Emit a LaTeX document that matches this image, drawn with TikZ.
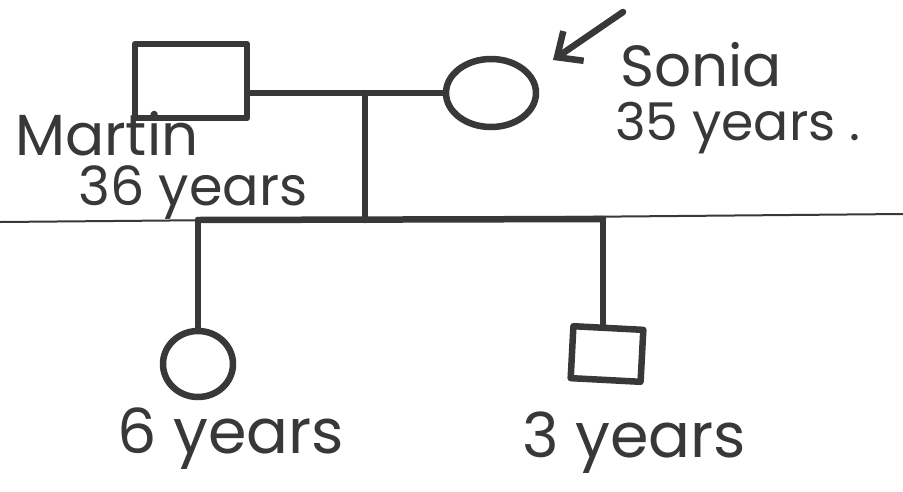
\documentclass[tikz,border=0pt]{standalone}
\usepackage{fontspec}
\setmainfont{Poppins}
\usetikzlibrary{shapes.geometric,arrows.meta}
\definecolor{ink}{HTML}{383838}
\begin{document}
\begin{tikzpicture}[x=1pt,y=-1pt,
  pen/.style={draw=ink, line width=6.5pt, line cap=round, line join=round},
  thinpen/.style={draw=ink, line width=2pt},
  malebox/.style={pen, rectangle, inner sep=0pt},
  femalebox/.style={pen, ellipse, inner sep=0pt},
  hand/.style={text=ink, inner sep=0pt, anchor=base west},
]
\useasboundingbox[fill=white] (0,0) rectangle (903,491);
% people
\node[malebox, minimum width=112pt, minimum height=74pt] (martin) at (191,81) {};
\node[femalebox, minimum width=90pt, minimum height=68pt] (sonia) at (491,93) {};
\node[femalebox, minimum width=70pt, minimum height=66pt] (girl) at (198,364) {};
\node[malebox, minimum width=70pt, minimum height=52pt, rotate=-3] (boy) at (607,354) {};
% coordinates
\coordinate (mid) at (365,93);
\coordinate (sibmid) at (365,220);
\coordinate (sibL) at (198,220);
\coordinate (sibR) at (603,219);
\coordinate (edgeL) at (0,222);
\coordinate (edgeR) at (903,214);
\coordinate (arrtail) at (623,12);
\coordinate (arrtip) at (553,60);
% lines
\draw[thinpen] (edgeL) -- (edgeR);
\draw[pen] (martin.east |- sonia.west) -- (sonia.west);
\draw[pen] (mid) -- (sibmid);
\draw[pen] (sibL) -- (sibR);
\draw[pen] (sibL) -- (girl.north);
\draw[pen] (sibR) -- (sibR |- boy.north);
\draw[pen, -{Straight Barb[length=20pt,width=36pt,line width=6.5pt]}] (arrtail) -- (arrtip);
% labels
\node[hand, font=\fontsize{58}{60}\selectfont] (lmartin) at (15,155) {Martin};
\node[hand, font=\fontsize{54}{60}\selectfont] (lmage) at (78,205) {36 years};
\node[hand, font=\fontsize{58}{60}\selectfont] (lsonia) at (620,86) {Sonia};
\node[hand, font=\fontsize{52}{60}\selectfont] (lsage) at (615,140) {35 years .};
\node[hand, font=\fontsize{62}{66}\selectfont] (lgirl) at (117,453) {6 years};
\node[hand, font=\fontsize{62}{66}\selectfont] (lboy) at (522,457) {3 years};
\end{tikzpicture}
\end{document}
